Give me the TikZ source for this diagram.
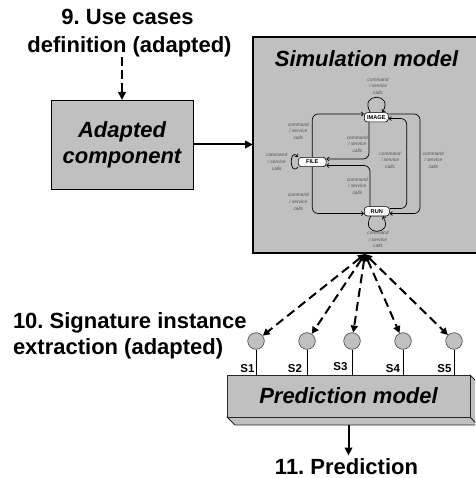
\documentclass[tikz,border=0pt]{standalone}
\usepackage{fontspec}
\setmainfont{Liberation Sans}
\usetikzlibrary{arrows.meta,calc}
\pgfdeclarelayer{back}
\pgfdeclarelayer{mid}
\pgfsetlayers{back,mid,main}
\definecolor{boxgray}{HTML}{C0C0C0}
\definecolor{lblgray}{HTML}{505050}
\frenchspacing

\begin{document}
\begin{tikzpicture}[x=1pt,y=-1pt,
  big/.style={font=\fontsize{22}{26}\selectfont\bfseries, inner sep=0pt, outer sep=0pt},
  bigit/.style={font=\fontsize{22}{26}\selectfont\bfseries\itshape, inner sep=0pt, outer sep=0pt},
  graybox/.style={draw=black, fill=boxgray, inner sep=0pt, outer sep=0pt},
  arr/.style={line width=2pt, -{Triangle[length=8pt,width=7.5pt]}},
  dsh/.style={line width=2pt, dash pattern=on 9pt off 5pt,
    {Triangle[length=7pt,width=7pt]}-{Triangle[length=7pt,width=7pt]}},
  st/.style={draw, fill=white, rounded corners=3pt, line width=0.6pt,
    font=\fontsize{5.6}{6}\selectfont\bfseries, inner sep=0pt, minimum height=9.3pt},
  sm/.style={line width=0.7pt, rounded corners=6pt, -{Straight Barb[length=2.2pt,width=4pt]}},
  lbl/.style={font=\fontsize{4.8}{6.6}\selectfont\itshape, text=lblgray, align=center, inner sep=0pt},
  sig/.style={circle, draw=black!75, line width=0.6pt, fill=boxgray, minimum size=16.6pt, inner sep=0pt},
  stem/.style={line width=0.7pt},
  slbl/.style={font=\fontsize{11.5}{12}\selectfont\bfseries, inner sep=0pt, anchor=base},
  slab/.style={draw=black!85, fill=boxgray, line width=0.9pt, line join=round}
]
\useasboundingbox (0,0) rectangle (475,478);
\clip (0,0) rectangle (475,478);

% ---- use cases and adapted component ----
\node[big, anchor=base] (t9a) at (127.5,25) {9. Use cases};
\node[big, anchor=base] (t9b) at (129.5,52.5) {definition (adapted)};
\node[graybox, line width=0.8pt, minimum width=142pt, minimum height=89pt,
      bigit, align=center] (ac) at (122,144.5) {Adapted\\component};
\draw[arr, dash pattern=on 9pt off 4pt] (t9b.south -| ac.north) -- (ac.north);

% ---- simulation model ----
\begin{pgfonlayer}{back}
\node[graybox, line width=1.3pt, minimum width=225pt, minimum height=216pt] (sim) at (365.5,145) {};
\end{pgfonlayer}
\node[bigit, anchor=base] (tsim) at (366.5,67) {Simulation model};
\draw[arr] (ac.east) -- (sim.west |- ac.east);

\node[st, minimum width=24pt] (img) at (376.3,117.3) {IMAGE};
\node[st, minimum width=27.7pt] (file) at (312.2,162) {FILE};
\node[st, minimum width=25pt] (run) at (376.8,211.3) {RUN};

\begin{pgfonlayer}{mid}
\draw[sm] (file.north) -- (file.north |- 0,114) -- (img.west |- 0,114);
\draw[sm] (file.south) -- (file.south |- 0,213.5) -- (run.west |- 0,213.5);
\draw[sm] (img.south -| 369,0) -- (369,159) -- (file.east |- 0,159);
\draw[sm] (run.north -| 370,0) -- (370,165.5) -- (file.east |- 0,165.5);
\draw[sm] (run.east |- 0,208.5) -- (406.7,208.5) -- (406.7,118.5) -- (img.east |- 0,118.5);
\draw[sm] (img.east |- 0,114) -- (420,114) -- (420,213.5) -- (run.east |- 0,213.5);
% self loops
\draw[sm, rounded corners=0pt] ($(img.north)+(-6,0)$) .. controls +(-12,-20) and +(12,-20) .. ($(img.north)+(6,0)$);
\draw[sm, rounded corners=0pt] ($(file.west)+(0,5)$) .. controls +(-9,10) and +(-9,-10) .. ($(file.west)+(0,-5)$);
\draw[sm, rounded corners=0pt] ($(run.south)+(-6,0)$) .. controls +(-12,20) and +(12,20) .. ($(run.south)+(6,0)$);
\end{pgfonlayer}

\node[lbl] (l1) at (378,86) {command\\/ service\\calls};
\node[lbl] (l2) at (298.3,131) {command\\/ service\\calls};
\node[lbl] (l3) at (357.3,144) {command\\/ service\\calls};
\node[lbl] (l4) at (276.7,161.7) {command\\/ service\\calls};
\node[lbl] (l5) at (390,160) {command\\/ service\\calls};
\node[lbl] (l6) at (433.3,160) {command\\/ service\\calls};
\node[lbl] (l7) at (357.3,186) {command\\/ service\\calls};
\node[lbl] (l8) at (298.3,201.7) {command\\/ service\\calls};
\node[lbl] (l9) at (378,239.5) {command\\/ service\\calls};

% ---- signature instances ----
\coordinate (src) at (365,254);
\node[big, anchor=base west] (t10a) at (13,328) {10. Signature instance};
\node[big, anchor=base west] (t10b) at (13,354) {extraction (adapted)};

\node[sig] (c1) at (256,341) {};
\node[sig] (c2) at (307,341) {};
\node[sig] (c3) at (352,341) {};
\node[sig] (c4) at (403,341) {};
\node[sig] (c5) at (454,341) {};
\foreach \c in {c1,c2,c3,c4,c5} \draw[dsh] (src) -- (\c);

% ---- prediction model slab ----
\draw[slab] (227,417) -- (470,417) -- (478,425) -- (235,425) -- cycle;
\draw[slab] (470,375) -- (478,383) -- (478,425) -- (470,417) -- cycle;
\node[graybox, draw=black!85, line width=0.9pt, minimum width=243pt, minimum height=42pt,
      bigit] (pm) at (348.5,396) {Prediction model};

\foreach \c in {c1,c2,c3,c4,c5} \draw[stem] (\c.south) -- (\c.south |- pm.north);
\node[slbl] (s1) at (247.5,372.5) {S1};
\node[slbl] (s2) at (295,372.5) {S2};
\node[slbl] (s3) at (340.5,370.5) {S3};
\node[slbl] (s4) at (393,372.5) {S4};
\node[slbl] (s5) at (444.5,372.5) {S5};

% ---- prediction output ----
\node[big, anchor=base] (t11) at (346.5,474.5) {11. Prediction};
\draw[arr, shorten >=3pt] ([yshift=-8pt]pm.south) -- (t11.north -| pm.south);
\end{tikzpicture}
\end{document}
